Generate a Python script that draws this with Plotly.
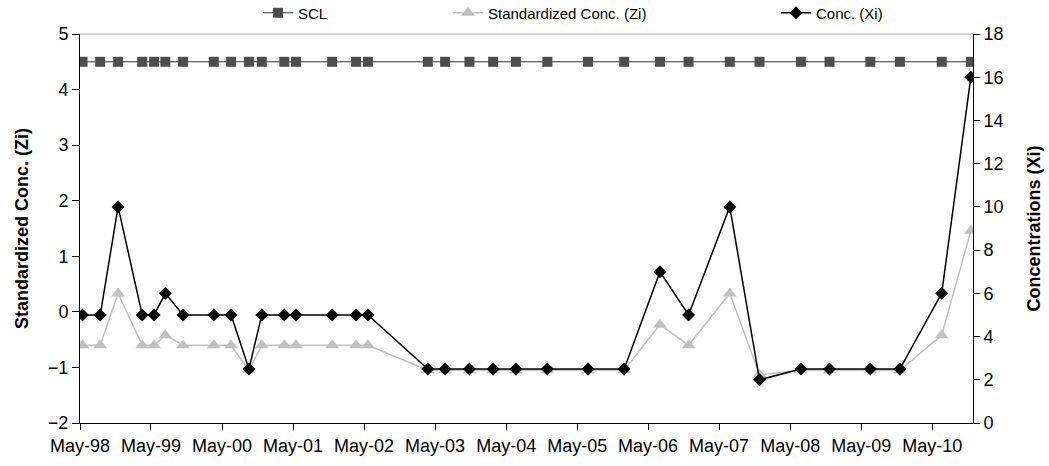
import plotly.graph_objects as go

dates = [
    "1998-05-14", "1998-08-13", "1998-11-13", "1999-03-17", "1999-05-17",
    "1999-07-14", "1999-10-13", "2000-03-19", "2000-06-16", "2000-09-16",
    "2000-11-21", "2001-03-17", "2001-05-16", "2001-11-18", "2002-03-21",
    "2002-05-21", "2003-03-25", "2003-06-22", "2003-10-25", "2004-02-24",
    "2004-06-20", "2004-11-29", "2005-06-26", "2005-12-29", "2006-07-01",
    "2006-11-25", "2007-06-25", "2007-11-25", "2008-06-25", "2008-11-19",
    "2009-06-17", "2009-11-16", "2010-06-19", "2010-11-16",
]

conc_xi = [
    5, 5, 10, 5, 5, 6, 5, 5, 5, 2.5,
    5, 5, 5, 5, 5, 5, 2.5, 2.5, 2.5, 2.5,
    2.5, 2.5, 2.5, 2.5, 7, 5, 10, 2, 2.5, 2.5,
    2.5, 2.5, 6, 16,
]

std_zi = [
    -0.60, -0.60, 0.33, -0.60, -0.60, -0.42, -0.60, -0.60, -0.60, -1.05,
    -0.60, -0.60, -0.60, -0.60, -0.60, -0.60, -1.05, -1.05, -1.05, -1.05,
    -1.05, -1.05, -1.05, -1.05, -0.23, -0.60, 0.33, -1.13, -1.05, -1.05,
    -1.05, -1.05, -0.42, 1.46,
]

scl = [4.5] * len(dates)

FONT = "Liberation Sans, Arial, sans-serif"

fig = go.Figure()

fig.add_trace(go.Scatter(
    x=dates, y=scl, name="SCL", mode="lines+markers",
    line=dict(color="#333333", width=1),
    marker=dict(symbol="square", size=10, color="#4d4d4d"),
    yaxis="y", legend="legend",
))
fig.add_trace(go.Scatter(
    x=dates, y=std_zi, name="Standardized Conc. (Zi)", mode="lines+markers",
    line=dict(color="#c0c0c0", width=1.5),
    marker=dict(symbol="triangle-up", size=12, color="#c0c0c0"),
    yaxis="y", legend="legend2",
))
fig.add_trace(go.Scatter(
    x=dates, y=conc_xi, name="Conc. (Xi)", mode="lines+markers",
    line=dict(color="#000000", width=1.5),
    marker=dict(symbol="diamond", size=10, color="#000000"),
    yaxis="y2", legend="legend3",
))

leg_common = dict(
    orientation="h", xref="container", yref="container",
    yanchor="middle", y=1 - 13 / 466, xanchor="left",
    font=dict(family=FONT, size=15, color="#000000"),
    bgcolor="rgba(0,0,0,0)", borderwidth=0, itemwidth=30,
)

fig.update_layout(
    width=1049, height=466,
    margin=dict(l=80, r=76, t=34, b=43, autoexpand=False),
    paper_bgcolor="white", plot_bgcolor="white",
    font=dict(family=FONT, size=18, color="#000000"),
    showlegend=True,
    legend=dict(leg_common, x=258 / 1049),
    legend2=dict(leg_common, x=448 / 1049),
    legend3=dict(leg_common, x=776 / 1049),
    xaxis=dict(
        type="date",
        range=["1998-05-01", "2010-11-27"],
        tick0="1998-05-01", dtick="M12", tickformat="%b-%y",
        showline=True, linecolor="#000000", linewidth=1,
        ticks="outside", ticklen=6, tickcolor="#000000",
        showgrid=False, zeroline=False, automargin=False,
        tickfont=dict(family=FONT, size=18, color="#000000"),
    ),
    yaxis=dict(
        range=[-2, 5], dtick=1,
        showline=True, linecolor="#000000", linewidth=1,
        ticks="outside", ticklen=7, tickcolor="#000000",
        showgrid=False, zeroline=False, automargin=False,
        tickfont=dict(family=FONT, size=18, color="#000000"),
        title=dict(text="<b>Standardized Conc. (Zi)</b>",
                   font=dict(family=FONT, size=18, color="#000000"),
                   standoff=14),
    ),
    yaxis2=dict(
        overlaying="y", side="right",
        range=[0, 18], dtick=2,
        showline=True, linecolor="#000000", linewidth=1,
        ticks="outside", ticklen=6, tickcolor="#000000",
        showgrid=False, zeroline=False, automargin=False,
        tickfont=dict(family=FONT, size=18, color="#000000"),
        title=dict(text="<b>Concentrations (Xi)</b>",
                   font=dict(family=FONT, size=18, color="#000000"),
                   standoff=24),
    ),
    shapes=[dict(type="line", xref="paper", yref="paper",
                 x0=0, x1=1, y0=1, y1=1,
                 line=dict(color="#a6a6a6", width=1))],
)

fig.write_html("out.html", config={"displayModeBar": False},
               post_script="document.body.style.margin='0';")
